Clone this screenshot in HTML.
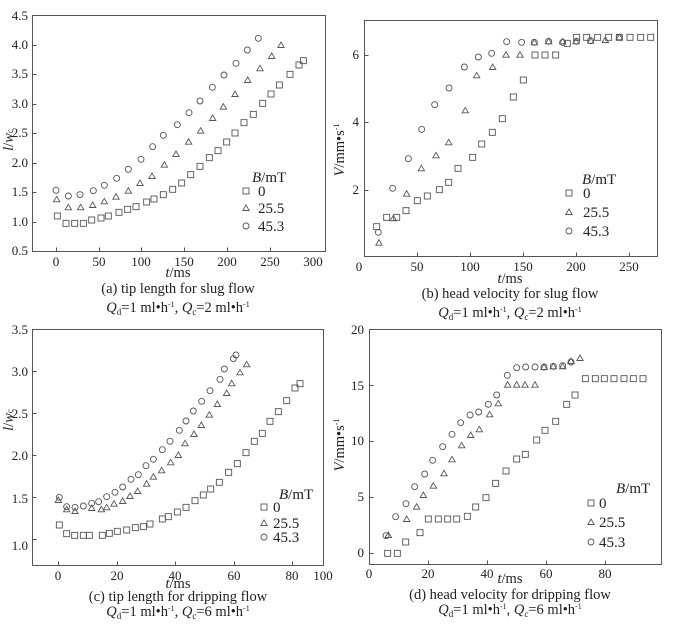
<!DOCTYPE html>
<html><head><meta charset="utf-8"><style>
body{margin:0;background:#fff;}
svg text{font-family:"Liberation Serif",serif;fill:#222;}
.cap{font-size:14.5px;}
.lg{font-size:15px;}
</style></head><body>
<svg id="s" width="679" height="629" xmlns="http://www.w3.org/2000/svg">
<g stroke="#555" fill="none" stroke-width="1">
<rect x="32.5" y="15.5" width="293" height="236"/>
<rect x="364.5" y="20.5" width="293" height="236"/>
<rect x="32.5" y="329.5" width="291" height="236"/>
<rect x="369.5" y="329.5" width="292" height="235"/>
</g>
<g id="tk" stroke="#555" stroke-width="1"></g>
<g id="mk" stroke="#555" stroke-width="0.9" fill="none"></g>
<g font-size="13">
<!-- a -->
<text x="28" y="20" text-anchor="end">4.5</text>
<text x="28" y="49" text-anchor="end">4.0</text>
<text x="28" y="78" text-anchor="end">3.5</text>
<text x="28" y="108" text-anchor="end">3.0</text>
<text x="28" y="137" text-anchor="end">2.5</text>
<text x="28" y="167" text-anchor="end">2.0</text>
<text x="28" y="196" text-anchor="end">1.5</text>
<text x="28" y="226" text-anchor="end">1.0</text>
<text x="28" y="255" text-anchor="end">0.5</text>
<text x="56" y="266" text-anchor="middle">0</text>
<text x="99" y="266" text-anchor="middle">50</text>
<text x="141" y="266" text-anchor="middle">100</text>
<text x="184" y="266" text-anchor="middle">150</text>
<text x="227" y="266" text-anchor="middle">200</text>
<text x="270" y="266" text-anchor="middle">250</text>
<text x="313" y="266" text-anchor="middle">300</text>
<text class="cap" x="178" y="277" text-anchor="middle"><tspan font-style="italic">t</tspan>/ms</text>
<text class="cap" x="178" y="293" text-anchor="middle">(a) tip length for slug flow</text>
<text class="cap" x="178" y="312" text-anchor="middle"><tspan font-style="italic">Q</tspan><tspan font-size="9" dy="3">d</tspan><tspan dy="-3">=1 ml•h</tspan><tspan font-size="8" dy="-5">-1</tspan><tspan dy="5">, </tspan><tspan font-style="italic">Q</tspan><tspan font-size="9" dy="3">c</tspan><tspan dy="-3">=2  ml•h</tspan><tspan font-size="8" dy="-5">-1</tspan></text>
<text class="cap" transform="translate(13,140) rotate(-90)" text-anchor="middle"><tspan font-style="italic">l</tspan>/<tspan font-style="italic">w</tspan><tspan font-size="9">c</tspan></text>
<g class="lg">
<text x="252" y="182"><tspan font-style="italic">B</tspan>/mT</text>
<text x="258" y="196">0</text><text x="258" y="213">25.5</text><text x="258" y="231">45.3</text>
</g>
<!-- b -->
<text x="359" y="59" text-anchor="end">6</text>
<text x="359" y="126" text-anchor="end">4</text>
<text x="359" y="194" text-anchor="end">2</text>
<text x="359" y="271" text-anchor="middle">0</text>
<text x="417" y="271" text-anchor="middle">50</text>
<text x="470" y="271" text-anchor="middle">100</text>
<text x="523" y="271" text-anchor="middle">150</text>
<text x="576" y="271" text-anchor="middle">200</text>
<text x="629" y="271" text-anchor="middle">250</text>
<text class="cap" x="510" y="283" text-anchor="middle"><tspan font-style="italic">t</tspan>/ms</text>
<text class="cap" x="510" y="298" text-anchor="middle">(b) head velocity for slug flow</text>
<text class="cap" x="510" y="317" text-anchor="middle"><tspan font-style="italic">Q</tspan><tspan font-size="9" dy="3">d</tspan><tspan dy="-3">=1 ml•h</tspan><tspan font-size="8" dy="-5">-1</tspan><tspan dy="5">, </tspan><tspan font-style="italic">Q</tspan><tspan font-size="9" dy="3">c</tspan><tspan dy="-3">=2  ml•h</tspan><tspan font-size="8" dy="-5">-1</tspan></text>
<text class="cap" transform="translate(344,150) rotate(-90)" text-anchor="middle"><tspan font-style="italic">V</tspan>/mm•s<tspan font-size="8" dy="-5">-1</tspan></text>
<g class="lg">
<text x="582" y="184"><tspan font-style="italic">B</tspan>/mT</text>
<text x="583" y="198">0</text><text x="583" y="217">25.5</text><text x="583" y="236">45.3</text>
</g>
<!-- c -->
<text x="28" y="334" text-anchor="end">3.5</text>
<text x="28" y="376" text-anchor="end">3.0</text>
<text x="28" y="418" text-anchor="end">2.5</text>
<text x="28" y="460" text-anchor="end">2.0</text>
<text x="28" y="503" text-anchor="end">1.5</text>
<text x="28" y="550" text-anchor="end">1.0</text>
<text x="58" y="580" text-anchor="middle">0</text>
<text x="117" y="580" text-anchor="middle">20</text>
<text x="175" y="580" text-anchor="middle">40</text>
<text x="234" y="580" text-anchor="middle">60</text>
<text x="292" y="580" text-anchor="middle">80</text>
<text x="323" y="580" text-anchor="middle">100</text>
<text class="cap" x="178" y="588" text-anchor="middle"><tspan font-style="italic">t</tspan>/ms</text>
<text class="cap" x="178" y="601" text-anchor="middle">(c) tip length for dripping flow</text>
<text class="cap" x="178" y="616" text-anchor="middle"><tspan font-style="italic">Q</tspan><tspan font-size="9" dy="3">d</tspan><tspan dy="-3">=1  ml•h</tspan><tspan font-size="8" dy="-5">-1</tspan><tspan dy="5">, </tspan><tspan font-style="italic">Q</tspan><tspan font-size="9" dy="3">c</tspan><tspan dy="-3">=6 ml•h</tspan><tspan font-size="8" dy="-5">-1</tspan></text>
<text class="cap" transform="translate(13,420) rotate(-90)" text-anchor="middle"><tspan font-style="italic">l</tspan>/<tspan font-style="italic">w</tspan><tspan font-size="9">c</tspan></text>
<g class="lg">
<text x="279" y="499"><tspan font-style="italic">B</tspan>/mT</text>
<text x="273" y="512">0</text><text x="273" y="528">25.5</text><text x="273" y="542">45.3</text>
</g>
<!-- d -->
<text x="364" y="334" text-anchor="end">20</text>
<text x="364" y="390" text-anchor="end">15</text>
<text x="364" y="445" text-anchor="end">10</text>
<text x="364" y="501" text-anchor="end">5</text>
<text x="364" y="557" text-anchor="end">0</text>
<text x="369" y="578" text-anchor="middle">0</text>
<text x="428" y="578" text-anchor="middle">20</text>
<text x="487" y="578" text-anchor="middle">40</text>
<text x="546" y="578" text-anchor="middle">60</text>
<text x="605" y="578" text-anchor="middle">80</text>
<text class="cap" x="510" y="583" text-anchor="middle"><tspan font-style="italic">t</tspan>/ms</text>
<text class="cap" x="510" y="599" text-anchor="middle">(d) head velocity for dripping flow</text>
<text class="cap" x="510" y="614" text-anchor="middle"><tspan font-style="italic">Q</tspan><tspan font-size="9" dy="3">d</tspan><tspan dy="-3">=1  ml•h</tspan><tspan font-size="8" dy="-5">-1</tspan><tspan dy="5">, </tspan><tspan font-style="italic">Q</tspan><tspan font-size="9" dy="3">c</tspan><tspan dy="-3">=6 ml•h</tspan><tspan font-size="8" dy="-5">-1</tspan></text>
<text class="cap" transform="translate(344,445) rotate(-90)" text-anchor="middle"><tspan font-style="italic">V</tspan>/mm•s<tspan font-size="8" dy="-5">-1</tspan></text>
<g class="lg">
<text x="616" y="493"><tspan font-style="italic">B</tspan>/mT</text>
<text x="599" y="508">0</text><text x="599" y="527">25.5</text><text x="599" y="547">45.3</text>
</g>
</g>
<script>
var NS="http://www.w3.org/2000/svg";
var mk=document.getElementById("mk"),tk=document.getElementById("tk");
function el(n,a,p){var e=document.createElementNS(NS,n);for(var k in a)e.setAttribute(k,a[k]);(p||mk).appendChild(e);}
function sq(x,y){el("rect",{x:x-3,y:y-3,width:6,height:6});}
function tr(x,y){el("polygon",{points:(x-3.2)+","+(y+2.5)+" "+(x+3.2)+","+(y+2.5)+" "+x+","+(y-3)});}
function ci(x,y){el("circle",{cx:x,cy:y,r:3});}
function plot(ox,oy,s,t,c){
 s.forEach(function(p){sq(ox+p[0]/3,oy+p[1]/3);});
 t.forEach(function(p){tr(ox+p[0]/3,oy+p[1]/3);});
 c.forEach(function(p){ci(ox+p[0]/3,oy+p[1]/3);});
}
plot(0,0,
[[172,648],[198,670],[224,670],[250,670],[275,660],[303,654],[325,648],[357,637],[383,628],[408,620],[440,606],[462,597],[490,584],[518,568],[545,549],[572,524],[600,499],[628,473],[654,452],[680,426],[705,399],[732,368],[760,343],[788,310],[813,282],[838,255],[870,223],[897,195],[910,182]],
[[170,598],[205,622],[242,622],[278,615],[313,604],[348,590],[385,572],[420,549],[456,528],[493,494],[528,462],[566,425],[602,392],[638,354],[670,320],[705,282],[743,240],[780,205],[815,168],[843,135]],
[[168,571],[205,588],[240,584],[280,572],[313,556],[350,535],[385,508],[423,478],[458,440],[490,406],[532,374],[567,338],[600,303],[637,262],[672,225],[708,190],[742,150],[775,115]]);
sq(246,191);tr(246,208);ci(246,226);
plot(340,0,
[[110,680],[140,652],[170,652],[198,632],[232,602],[262,588],[298,569],[326,547],[354,505],[398,472],[425,432],[457,397],[487,356],[520,291],[550,240],[585,165],[615,165],[647,165],[682,130],[710,112],[740,112],[773,112],[806,112],[838,112],[870,112],[902,112],[932,112]],
[[117,728],[160,655],[200,581],[244,505],[288,466],[326,427],[376,331],[410,226],[458,201],[498,164],[540,164],[583,127],[626,124],[668,124],[708,124],[752,122],[796,120],[838,112]],
[[115,697],[158,565],[205,476],[245,388],[284,314],[327,264],[373,201],[415,171],[455,160],[500,125],[545,127],[583,127],[626,124],[668,127],[710,124],[752,122],[838,112]]);
sq(569,193);tr(569,212);ci(569,231);
plot(0,320,
[[178,615],[200,641],[224,646],[250,646],[268,646],[307,646],[328,640],[352,634],[380,630],[406,623],[430,620],[450,612],[487,597],[505,590],[532,576],[558,562],[585,542],[610,525],[632,507],[658,487],[686,457],[712,431],[738,398],[763,364],[787,340],[810,304],[835,275],[860,242],[885,204],[900,191]],
[[175,540],[200,568],[225,573],[275,564],[304,568],[320,562],[342,551],[368,543],[390,528],[413,513],[440,491],[460,470],[485,451],[512,427],[535,405],[555,370],[582,342],[604,315],[628,284],[652,252],[680,219],[695,190],[720,157],[740,133]],
[[178,532],[200,560],[225,562],[250,558],[275,550],[296,545],[320,530],[345,517],[368,501],[393,478],[415,464],[438,437],[460,418],[487,389],[510,364],[538,331],[558,303],[580,273],[605,244],[630,212],[660,178],[673,147],[700,116],[708,105]]);
sq(264,507);tr(264,523);ci(264,537);
plot(340,320,
[[143,700],[172,700],[197,666],[240,638],[265,597],[295,597],[323,597],[350,597],[382,589],[407,561],[438,533],[467,490],[498,453],[530,417],[556,403],[590,360],[615,331],[647,304],[680,253],[705,225],[736,176],[766,176],[793,176],[822,176],[852,176],[880,176],[909,176]],
[[145,645],[200,597],[230,560],[250,525],[280,497],[312,460],[336,418],[365,376],[392,345],[418,328],[449,283],[475,250],[503,194],[530,194],[555,194],[585,194],[612,141],[640,139],[668,139],[693,123],[720,114]],
[[138,647],[167,590],[198,551],[224,500],[254,462],[278,421],[308,380],[336,343],[362,308],[390,285],[416,276],[445,253],[470,225],[502,166],[530,143],[557,141],[585,141],[612,141],[640,139],[668,137],[693,126]]);
sq(591,503);tr(591,522);ci(591,542);
function yt(x,ys){ys.forEach(function(y){el("line",{x1:x,y1:y+.5,x2:x+4,y2:y+.5},tk);});}
function xt(y,xs){xs.forEach(function(x){el("line",{x1:x+.5,y1:y,x2:x+.5,y2:y-4},tk);});}
yt(32.5,[45,74,104,133,163,192,222]);xt(251.5,[56,99,141,184,227,270]);
yt(364.5,[55,122,190]);xt(256.5,[417,470,523,576,629]);
yt(32.5,[371,413,455,497,539]);xt(565.5,[58,117,175,234,292]);
yt(369.5,[385,441,497,553]);xt(564.5,[428,487,546,605]);
</script>
</svg>
</body></html>
